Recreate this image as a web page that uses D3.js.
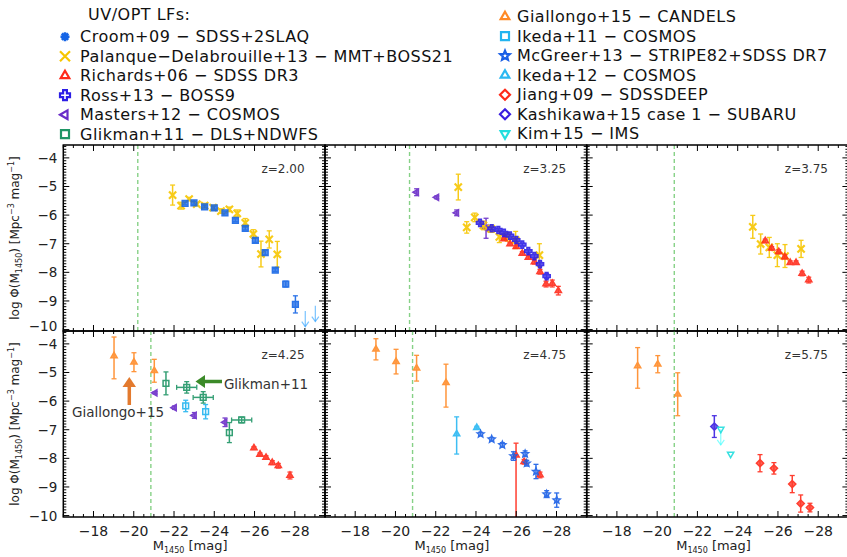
<!DOCTYPE html>
<html>
<head>
<meta charset="utf-8">
<title>UV/OPT LFs</title>
<script src="https://cdn.jsdelivr.net/npm/d3@7"></script>
<style>
  body { margin: 0; background: #fff; }
  text { font-family: "DejaVu Sans", sans-serif; }
</style>
</head>
<body>
<svg width="847" height="557"></svg>
<script>
// ---- data: [M1450, log phi, err down, err up, (x err)] ----
var panelZ = ["2.00", "3.25", "3.75", "4.25", "4.75", "5.75"];
var magLimit = [-20.2, -20.7, -20.85, -20.85, -20.85, -20.85];
var xTicks = [-18, -20, -22, -24, -26, -28];
var yTicks = [-4, -5, -6, -7, -8, -9, -10];

var legendLeft = ["croom", "palanque", "richards", "ross", "masters", "glikman"];
var legendRight = ["giallongo", "ikeda11", "mcgreer", "ikeda12", "jiang", "kashikawa", "kim"];
var legendText = {
  croom: "Croom+09 \u2212 SDSS+2SLAQ",
  palanque: "Palanque\u2212Delabrouille+13 \u2212 MMT+BOSS21",
  richards: "Richards+06 \u2212 SDSS DR3",
  ross: "Ross+13 \u2212 BOSS9",
  masters: "Masters+12 \u2212 COSMOS",
  glikman: "Glikman+11 \u2212 DLS+NDWFS",
  giallongo: "Giallongo+15 \u2212 CANDELS",
  ikeda11: "Ikeda+11 \u2212 COSMOS",
  mcgreer: "McGreer+13 \u2212 STRIPE82+SDSS DR7",
  ikeda12: "Ikeda+12 \u2212 COSMOS",
  jiang: "Jiang+09 \u2212 SDSSDEEP",
  kashikawa: "Kashikawa+15 case 1 \u2212 SUBARU",
  kim: "Kim+15 \u2212 IMS"
};

// z = 2.00
var croom_z200 = [
  [-22.55, -5.59, 0.05, 0.05], [-22.99, -5.57, 0.05, 0.05], [-23.52, -5.71, 0.04, 0.04],
  [-24.00, -5.75, 0.04, 0.04], [-24.53, -5.92, 0.04, 0.04], [-25.05, -6.18, 0.05, 0.05],
  [-25.54, -6.46, 0.06, 0.06], [-26.04, -6.88, 0.07, 0.07], [-26.53, -7.31, 0.08, 0.08],
  [-27.03, -7.92, 0.05, 0.05], [-27.55, -8.41, 0.10, 0.10], [-28.03, -9.12, 0.30, 0.30]
];
var croomLimits_z200 = [[-28.52, -9.35], [-29.02, -9.17]];
var palanque_z200 = [
  [-21.93, -5.30, 0.35, 0.35], [-22.35, -5.67, 0.12, 0.12], [-22.75, -5.44, 0.06, 0.06],
  [-23.13, -5.62, 0.06, 0.06], [-23.52, -5.67, 0.08, 0.08], [-23.94, -5.74, 0.08, 0.08],
  [-24.33, -5.86, 0.08, 0.08], [-24.75, -5.80, 0.08, 0.08], [-25.14, -5.94, 0.12, 0.12],
  [-25.54, -6.27, 0.15, 0.15], [-25.94, -6.66, 0.15, 0.15], [-26.32, -7.36, 0.45, 0.45],
  [-26.73, -6.85, 0.30, 0.30], [-27.13, -7.37, 0.45, 0.45]
];

// z = 3.25
var masters_z325 = [[-21.05, -5.20, 0.12, 0.12], [-22.05, -5.38, 0.05, 0.05], [-23.04, -5.92, 0.10, 0.10], [-24.50, -6.46, 0.35, 0.35]];
var palanque_z325 = [
  [-23.12, -5.02, 0.45, 0.45], [-23.54, -6.43, 0.20, 0.20], [-23.94, -6.08, 0.15, 0.15],
  [-24.37, -6.36, 0.15, 0.15], [-24.76, -6.48, 0.12, 0.12], [-25.16, -6.76, 0.20, 0.20],
  [-25.56, -6.76, 0.15, 0.15], [-25.97, -6.87, 0.30, 0.30], [-27.15, -7.40, 0.40, 0.40]
];
var ross_z325 = [
  [-24.20, -6.27, 0.05, 0.05], [-24.78, -6.46, 0.04, 0.04], [-25.11, -6.52, 0.04, 0.04],
  [-25.39, -6.62, 0.04, 0.04], [-25.69, -6.72, 0.04, 0.04], [-26.00, -6.87, 0.05, 0.05],
  [-26.30, -7.03, 0.05, 0.05], [-26.60, -7.26, 0.05, 0.05], [-26.90, -7.43, 0.06, 0.06],
  [-27.18, -7.71, 0.06, 0.06], [-27.51, -8.13, 0.08, 0.08]
];
var richards_z325 = [
  [-25.39, -6.83, 0.05, 0.05], [-25.69, -7.01, 0.05, 0.05], [-26.00, -7.10, 0.05, 0.05],
  [-26.30, -7.34, 0.06, 0.06], [-26.60, -7.48, 0.06, 0.06], [-26.90, -7.64, 0.07, 0.07],
  [-27.18, -7.98, 0.08, 0.08], [-27.48, -8.41, 0.10, 0.10], [-27.79, -8.39, 0.12, 0.12],
  [-28.09, -8.64, 0.15, 0.15]
];

// z = 3.75
var palanque_z375 = [
  [-24.75, -6.41, 0.40, 0.40], [-25.14, -7.01, 0.35, 0.35], [-25.57, -7.13, 0.35, 0.35],
  [-25.97, -7.40, 0.40, 0.40], [-26.35, -7.43, 0.40, 0.40], [-27.15, -7.18, 0.30, 0.30]
];
var richards_z375 = [
  [-25.37, -6.90, 0.06, 0.06], [-25.69, -7.16, 0.06, 0.06], [-26.04, -7.28, 0.07, 0.07],
  [-26.34, -7.46, 0.07, 0.07], [-26.61, -7.66, 0.06, 0.06], [-26.90, -7.66, 0.06, 0.06],
  [-27.20, -8.04, 0.08, 0.08], [-27.53, -8.27, 0.10, 0.10]
];

// z = 4.25
var giallongo_z425 = [[-19.02, -4.42, 0.80, 0.66], [-20.01, -4.64, 0.33, 0.33], [-21.02, -4.94, 0.40, 0.40]];
var glikman_z425 = [
  [-21.60, -5.38, 0.40, 0.40, 0], [-22.63, -5.52, 0.20, 0.20, 0.5], [-23.45, -5.87, 0.20, 0.20, 0.5],
  [-24.75, -7.10, 0.35, 0.35, 0], [-25.36, -6.66, 0.10, 0.10, 0.5]
];
var masters_z425 = [[-21.06, -5.71, 0.04, 0.04], [-22.02, -6.23, 0.06, 0.06], [-23.01, -6.50, 0.10, 0.10], [-24.53, -6.74, 0.15, 0.15]];
var ikeda11_z425 = [[-22.58, -6.17, 0.20, 0.20], [-23.57, -6.37, 0.25, 0.25]];
var richards_z425 = [
  [-25.97, -7.64, 0.05, 0.05], [-26.27, -7.86, 0.05, 0.05], [-26.57, -7.97, 0.06, 0.06],
  [-26.88, -8.15, 0.07, 0.07], [-27.18, -8.26, 0.08, 0.08], [-27.76, -8.60, 0.12, 0.12]
];

// z = 4.75
var giallongo_z475 = [[-19.03, -4.19, 0.37, 0.37], [-20.03, -4.62, 0.43, 0.43], [-21.05, -4.85, 0.45, 0.45], [-22.51, -5.36, 0.85, 0.65]];
var ikeda12_z475 = [[-23.04, -7.15, 0.70, 0.60], [-24.04, -6.93, 0.05, 0.05]];
var mcgreer_z475 = [
  [-24.23, -7.15, 0.06, 0.06], [-24.78, -7.33, 0.06, 0.06], [-25.31, -7.53, 0.08, 0.08],
  [-25.86, -7.92, 0.15, 0.15], [-26.44, -7.84, 0.10, 0.10], [-26.52, -8.17, 0.10, 0.10],
  [-26.98, -8.46, 0.25, 0.25], [-27.51, -9.25, 0.12, 0.12], [-28.01, -9.46, 0.25, 0.25]
];
var richards_z475 = [[-25.99, -7.89, 3.00, 0.42], [-26.39, -8.12, 0.08, 0.08], [-27.18, -8.58, 0.10, 0.10]];

// z = 5.75
var giallongo_z575 = [[-19.03, -4.77, 0.78, 0.64], [-20.03, -4.71, 0.30, 0.30], [-21.02, -5.76, 0.75, 0.75]];
var kashikawa_z575 = [[-22.84, -6.89, 0.38, 0.38]];
var kim_z575 = [[-23.16, -6.98, 0, 0], [-23.65, -7.85, 0, 0]];
var kimLimits_z575 = [[-23.16, -6.98]];
var jiang_z575 = [
  [-25.11, -8.17, 0.30, 0.30], [-25.80, -8.35, 0.20, 0.20], [-26.71, -8.90, 0.30, 0.30],
  [-27.13, -9.58, 0.30, 0.30], [-27.59, -9.72, 0.15, 0.15]
];

// ---- styles ----
var style = {
  croom:     { color: "#1565e6", shape: "asterisk", mark: "square", fill: true },
  palanque:  { color: "#f7c600", shape: "x", fill: true },
  richards:  { color: "#ff2a1a", shape: "triUp", fill: true },
  ross:      { color: "#2c1ee6", shape: "plus", fill: true },
  masters:   { color: "#6a2cc8", shape: "triLeft", fill: true },
  glikman:   { color: "#1f9566", shape: "square", fill: false },
  giallongo: { color: "#ff8a26", shape: "triUp", fill: true },
  ikeda11:   { color: "#22b4f0", shape: "square", fill: false },
  mcgreer:   { color: "#1a5fe6", shape: "star", fill: false },
  ikeda12:   { color: "#2ab8f2", shape: "triUp", fill: true },
  jiang:     { color: "#ff2a1a", shape: "diamond", fill: true },
  kashikawa: { color: "#3a1ee0", shape: "diamond", fill: true },
  kim:       { color: "#22dede", shape: "triDown", fill: false }
};

var panels = [
  { sets: [["palanque", palanque_z200], ["croom", croom_z200]], limits: [["croom", croomLimits_z200]] },
  { sets: [["masters", masters_z325], ["palanque", palanque_z325], ["richards", richards_z325], ["ross", ross_z325]], limits: [] },
  { sets: [["palanque", palanque_z375], ["richards", richards_z375]], limits: [] },
  { sets: [["giallongo", giallongo_z425], ["masters", masters_z425], ["ikeda11", ikeda11_z425], ["glikman", glikman_z425], ["richards", richards_z425]], limits: [] },
  { sets: [["giallongo", giallongo_z475], ["ikeda12", ikeda12_z475], ["richards", richards_z475], ["mcgreer", mcgreer_z475]], limits: [] },
  { sets: [["giallongo", giallongo_z575], ["kashikawa", kashikawa_z575], ["kim", kim_z575], ["jiang", jiang_z575]], limits: [["kim", kimLimits_z575]] }
];

function shapePath(shape, r) {
  var s = 0.866 * r, h = r / 2;
  switch (shape) {
    case "asterisk":
      var d = 0.707 * r;
      return "M" + (-r) + ",0L" + r + ",0M0," + (-r) + "L0," + r +
             "M" + (-d) + "," + (-d) + "L" + d + "," + d + "M" + (-d) + "," + d + "L" + d + "," + (-d);
    case "x":
      return "M" + (-r) + "," + (-r) + "L" + r + "," + r + "M" + (-r) + "," + r + "L" + r + "," + (-r);
    case "triUp":
      return "M0," + (-r) + "L" + s + "," + h + "L" + (-s) + "," + h + "Z";
    case "triDown":
      return "M0," + r + "L" + s + "," + (-h) + "L" + (-s) + "," + (-h) + "Z";
    case "triLeft":
      return "M" + (-r) + ",0L" + h + "," + (-s) + "L" + h + "," + s + "Z";
    case "square":
      return "M" + (-0.8 * r) + "," + (-0.8 * r) + "h" + (1.6 * r) + "v" + (1.6 * r) + "h" + (-1.6 * r) + "Z";
    case "diamond":
      return "M0," + (-r) + "L" + r + ",0L0," + r + "L" + (-r) + ",0Z";
    case "plus":
      var w = 0.38 * r;
      return "M" + (-w) + "," + (-r) + "H" + w + "V" + (-w) + "H" + r + "V" + w + "H" + w + "V" + r +
             "H" + (-w) + "V" + w + "H" + (-r) + "V" + (-w) + "H" + (-w) + "Z";
    case "star":
      var pts = [];
      for (var i = 0; i < 10; i++) {
        var a = -Math.PI / 2 + i * Math.PI / 5, rr = i % 2 ? r * 0.45 : r;
        pts.push((rr * Math.cos(a)).toFixed(2) + "," + (rr * Math.sin(a)).toFixed(2));
      }
      return "M" + pts.join("L") + "Z";
  }
}
var strokeOnly = { asterisk: 1, x: 1 };

var svg = d3.select("svg");
var colX = [63.3, 325, 586.7], rowY = [145, 331];
var W = 261.7, H = 186;

var x = d3.scaleLinear().domain([-16.5, -29.5]).range([0, W]);
var y = d3.scaleLinear().domain([-10.05, -3.55]).range([H, 0]);

svg.append("defs").append("clipPath").attr("id", "clip")
  .append("rect").attr("width", W).attr("height", H);

panels.forEach(function (p, i) {
  var col = i % 3, row = Math.floor(i / 3);
  var g = svg.append("g").attr("transform", "translate(" + colX[col] + "," + rowY[row] + ")");
  var plot = g.append("g").attr("clip-path", "url(#clip)");

  // magnitude limit
  plot.append("line")
    .attr("x1", x(magLimit[i])).attr("x2", x(magLimit[i]))
    .attr("y1", 0).attr("y2", H)
    .attr("stroke", "#86d186").attr("stroke-width", 1.4).attr("stroke-dasharray", "4,3");

  // upper limits (arrows)
  p.limits.forEach(function (L) {
    var c = d3.color(style[L[0]].color).brighter(1.2);
    L[1].forEach(function (d) {
      var px = x(d[0]), py = y(d[1]), yb = y(d[1] - 0.55);
      plot.append("line").attr("x1", px).attr("x2", px).attr("y1", py).attr("y2", yb)
        .attr("stroke", c).attr("stroke-opacity", 0.6).attr("stroke-width", 1.2);
      plot.append("path").attr("d", "M" + (px - 3.5) + "," + (yb - 5) + "L" + px + "," + yb + "L" + (px + 3.5) + "," + (yb - 5))
        .attr("fill", "none").attr("stroke", c).attr("stroke-opacity", 0.6).attr("stroke-width", 1.2);
    });
  });

  p.sets.forEach(function (S) {
    var st = style[S[0]], shp = st.mark || st.shape;
    var grp = plot.append("g").attr("stroke", st.color).attr("opacity", 0.9);
    S[1].forEach(function (d) {
      var px = x(d[0]), py = y(d[1]);
      if (d[2] || d[3]) {
        var y1 = y(d[1] + d[3]), y2 = y(d[1] - d[2]);
        grp.append("line").attr("x1", px).attr("x2", px).attr("y1", y1).attr("y2", y2).attr("stroke-width", 1.5);
        grp.append("line").attr("x1", px - 2.5).attr("x2", px + 2.5).attr("y1", y1).attr("y2", y1).attr("stroke-width", 1.3);
        grp.append("line").attr("x1", px - 2.5).attr("x2", px + 2.5).attr("y1", y2).attr("y2", y2).attr("stroke-width", 1.3);
      }
      if (d[4]) {
        var x1 = x(d[0] + d[4]), x2 = x(d[0] - d[4]);
        grp.append("line").attr("x1", x1).attr("x2", x2).attr("y1", py).attr("y2", py).attr("stroke-width", 1.5);
        grp.append("line").attr("x1", x1).attr("x2", x1).attr("y1", py - 2.5).attr("y2", py + 2.5).attr("stroke-width", 1.3);
        grp.append("line").attr("x1", x2).attr("x2", x2).attr("y1", py - 2.5).attr("y2", py + 2.5).attr("stroke-width", 1.3);
      }
      grp.append("path")
        .attr("transform", "translate(" + px + "," + py + ")")
        .attr("d", shapePath(shp, 3.6))
        .attr("fill", strokeOnly[shp] ? "none" : (st.fill ? st.color : "none"))
        .attr("fill-opacity", 0.8)
        .attr("stroke-width", strokeOnly[shp] ? 2.2 : 1.5);
    });
  });

  // ticks on all four sides
  var tk = g.append("g").attr("stroke", "#000").attr("stroke-width", 1);
  d3.range(-16.5, -29.51, -0.5).forEach(function (m) {
    var major = Math.abs(m % 2) < 1e-9;
    var len = major ? 6 : 3;
    tk.append("line").attr("x1", x(m)).attr("x2", x(m)).attr("y1", H).attr("y2", H - len);
    tk.append("line").attr("x1", x(m)).attr("x2", x(m)).attr("y1", 0).attr("y2", len);
  });
  d3.range(-10, -3.55, 0.1).forEach(function (v) {
    var major = Math.abs(v - Math.round(v)) < 1e-6;
    var len = major ? 6 : 3;
    tk.append("line").attr("x1", 0).attr("x2", len).attr("y1", y(v)).attr("y2", y(v));
    tk.append("line").attr("x1", W).attr("x2", W - len).attr("y1", y(v)).attr("y2", y(v));
  });

  g.append("rect").attr("width", W).attr("height", H)
    .attr("fill", "none").attr("stroke", "#000").attr("stroke-width", 1.5);

  g.append("text").attr("x", W - 42).attr("y", 28).attr("text-anchor", "middle")
    .attr("font-size", 12).attr("fill", "#333").text("z=" + panelZ[i]);

  if (col === 0) {
    g.append("g").selectAll("text").data(yTicks).join("text")
      .attr("x", -6)
      .attr("y", function (d) { return y(d) + (row === 0 && d === -10 ? 1 : 5); })
      .attr("text-anchor", "end").attr("font-size", 13.5).attr("fill", "#222")
      .text(d3.format("d"));
    var yt = g.append("text").attr("transform", "translate(-44," + (H / 2) + ") rotate(-90)")
      .attr("text-anchor", "middle").attr("font-size", 12).attr("fill", "#222");
    yt.append("tspan").text("log \u03A6(M");
    yt.append("tspan").attr("font-size", 8).attr("dy", 3).text("1450");
    yt.append("tspan").attr("dy", -3).text(")  [Mpc");
    yt.append("tspan").attr("font-size", 8).attr("dy", -5).text("\u22123");
    yt.append("tspan").attr("dy", 5).text(" mag");
    yt.append("tspan").attr("font-size", 8).attr("dy", -5).text("\u22121");
    yt.append("tspan").attr("dy", 5).text("]");
  }
  if (row === 1) {
    g.append("g").selectAll("text").data(xTicks).join("text")
      .attr("x", function (d) { return x(d); }).attr("y", H + 19)
      .attr("text-anchor", "middle").attr("font-size", 14).attr("fill", "#222")
      .text(d3.format("d"));
    var xt = g.append("text").attr("x", W / 2 - 4).attr("y", H + 33)
      .attr("text-anchor", "middle").attr("font-size", 13).attr("fill", "#222");
    xt.append("tspan").text("M");
    xt.append("tspan").attr("font-size", 8).attr("dy", 3).text("1450");
    xt.append("tspan").attr("dy", -3).text(" [mag]");
  }
});

// ---- annotations in the z=4.25 panel ----
var ann = svg.append("g");
ann.append("line").attr("x1", 129.3).attr("x2", 129.3).attr("y1", 405).attr("y2", 386)
  .attr("stroke", "#e37a2e").attr("stroke-width", 3.5);
ann.append("path").attr("d", "M122.5,387L136,387L129.3,377Z").attr("fill", "#e37a2e");
ann.append("text").attr("x", 118).attr("y", 417).attr("text-anchor", "middle")
  .attr("font-family", "Open Sans, sans-serif").attr("font-size", 13.5).attr("fill", "#333").text("Giallongo+15");
ann.append("line").attr("x1", 222).attr("x2", 204).attr("y1", 381.5).attr("y2", 381.5)
  .attr("stroke", "#3b8a28").attr("stroke-width", 3.5);
ann.append("path").attr("d", "M205,375L205,388L195.5,381.5Z").attr("fill", "#3b8a28");
ann.append("text").attr("x", 266).attr("y", 389).attr("text-anchor", "middle")
  .attr("font-family", "Open Sans, sans-serif").attr("font-size", 13.5).attr("fill", "#333").text("Glikman+11");

// ---- legend ----
var leg = svg.append("g");
leg.append("text").attr("x", 88).attr("y", 20).attr("font-size", 16).attr("letter-spacing", 0.5)
  .attr("fill", "#111").text("UV/OPT LFs:");
function legendColumn(keys, mx, tx, y0) {
  keys.forEach(function (k, j) {
    var st = style[k], cy = y0 + j * 19.5;
    leg.append("path").attr("transform", "translate(" + mx + "," + cy + ")")
      .attr("d", shapePath(st.shape, k === "croom" ? 4.5 : 5))
      .attr("fill", "none").attr("stroke", st.color)
      .attr("stroke-width", k === "croom" ? 2.6 : 2.2);
    leg.append("text").attr("x", tx).attr("y", cy + 5.5).attr("font-size", 16).attr("letter-spacing", 0.5)
      .attr("fill", "#111").text(legendText[k]);
  });
}
legendColumn(legendLeft, 65, 80, 36.7);
legendColumn(legendRight, 505, 517, 16.7);
</script>
</body>
</html>
